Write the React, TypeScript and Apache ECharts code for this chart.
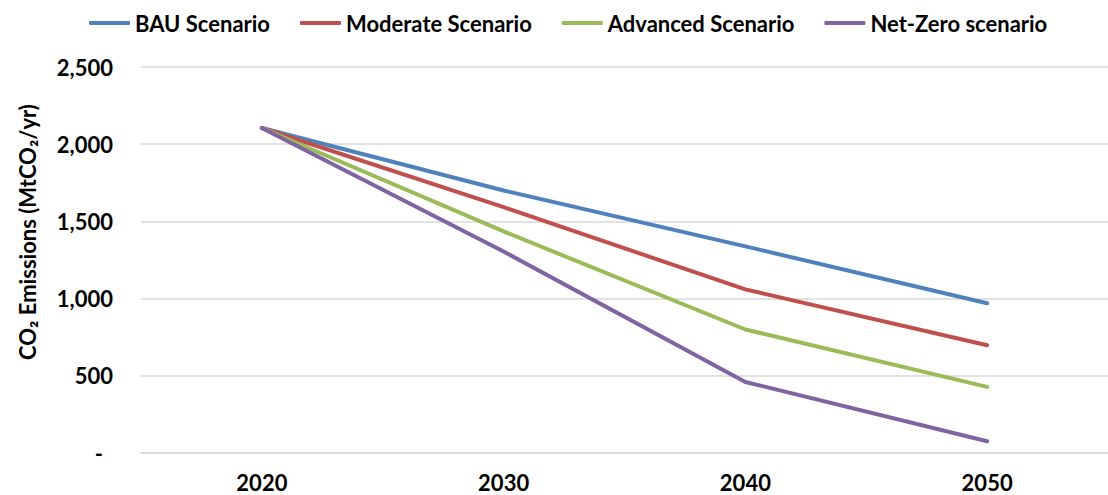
import React, { useEffect, useRef } from "react";
import * as echarts from "echarts";

const years = ["2020", "2030", "2040", "2050"];
const bau = [2105, 1700, 1338, 970];
const moderate = [2105, 1592, 1060, 698];
const advanced = [2105, 1435, 800, 428];
const netZero = [2105, 1305, 460, 76];
const seriesNames = ["BAU Scenario", "Moderate Scenario", "Advanced Scenario", "Net-Zero scenario"];
const colors = ["#4F81BD", "#C0504D", "#9BBB59", "#8064A2"];

const FONT = "Lato";
const FS = 22;

export default function App() {
  const ref = useRef<HTMLDivElement>(null);
  useEffect(() => {
    if (!ref.current) return;
    const chart = echarts.init(ref.current, null, { renderer: "svg" });
    const data = [bau, moderate, advanced, netZero];
    chart.setOption({
      animation: false,
      color: colors,
      textStyle: { fontFamily: FONT, fontWeight: "bold", color: "#000" },
      legend: {
        top: 7,
        left: 84,
        itemWidth: 41,
        itemHeight: 4,
        itemGap: 30,
        icon: "roundRect",
        textStyle: { fontFamily: FONT, fontWeight: "bold", fontSize: FS, color: "#000" },
        data: seriesNames,
      },
      grid: { left: 141, right: -7, top: 67, bottom: 42, containLabel: false },
      xAxis: {
        type: "category",
        data: years,
        boundaryGap: true,
        axisLine: { lineStyle: { color: "#d9d9d9", width: 1.5 } },
        axisTick: { show: false },
        axisLabel: { fontFamily: FONT, fontWeight: "bold", fontSize: FS, color: "#000", margin: 18 },
      },
      yAxis: {
        type: "value",
        min: 0,
        max: 2500,
        interval: 500,
        name: "CO₂ Emissions (MtCO₂/yr)",
        nameLocation: "middle",
        nameGap: 103,
        nameTextStyle: {
          fontFamily: FONT,
          fontWeight: "bold",
          fontSize: FS,
          color: "#000",
          padding: [0, 0, 0, 56],
        },
        axisLine: { show: false },
        axisTick: { show: false },
        splitLine: { lineStyle: { color: "#d9d9d9", width: 1.5 } },
        axisLabel: {
          fontFamily: FONT,
          fontWeight: "bold",
          fontSize: FS,
          color: "#000",
          margin: 28,
          formatter: (v: number) => (v === 0 ? "{d|-}" : v.toLocaleString("en-US")),
          rich: { d: { fontFamily: FONT, fontWeight: "bold", fontSize: FS, color: "#000", padding: [0, 10, 0, 0] } },
        },
      },
      series: seriesNames.map((name, i) => ({
        name,
        type: "line",
        data: data[i],
        showSymbol: false,
        symbol: "none",
        lineStyle: { width: 4, color: colors[i], cap: "round", join: "round" },
        itemStyle: { color: colors[i] },
      })),
    });
    return () => chart.dispose();
  }, []);
  return (
    <div
      ref={ref}
      style={{ position: "fixed", left: 0, top: 0, width: 1108, height: 495, background: "#fff" }}
    />
  );
}
